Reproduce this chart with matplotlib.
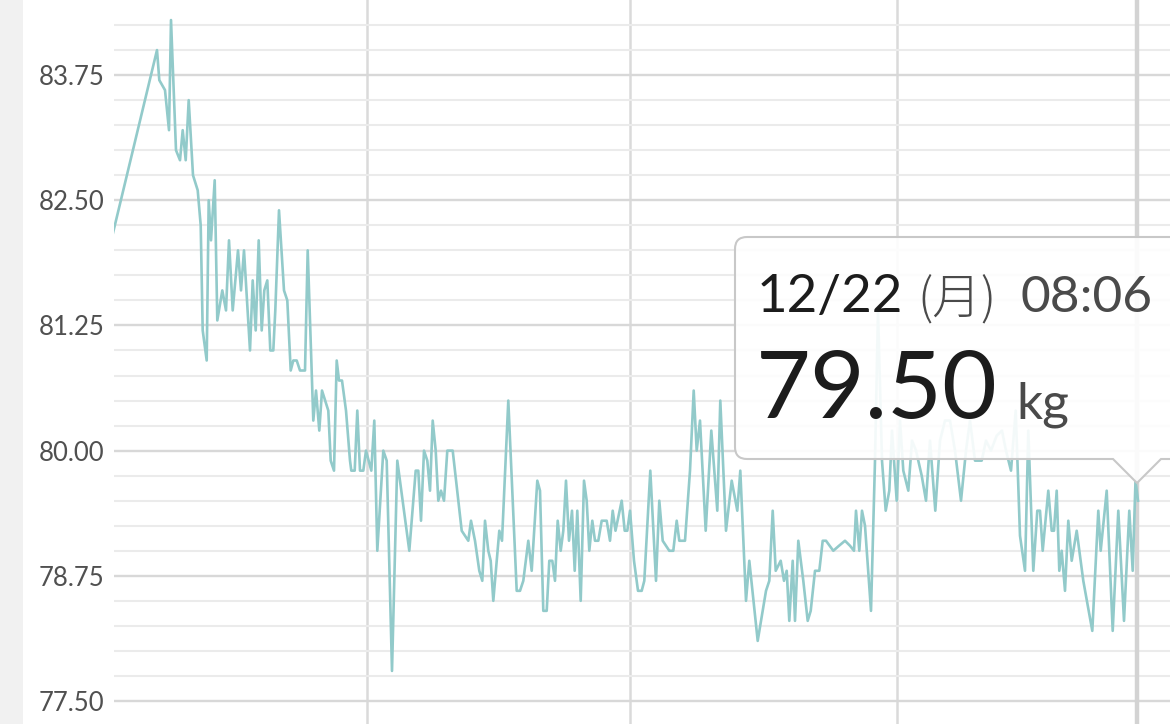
import matplotlib
matplotlib.use('Agg')
import matplotlib.pyplot as plt
from matplotlib.path import Path
from matplotlib.patches import PathPatch, Rectangle

# measurement time (days from the left edge of the view) and weight (kg)
days = [-1.0, 4.3, 4.53, 5.1, 5.5, 5.7, 6.2, 6.6, 6.87, 7.17, 7.47, 7.9, 8.37, 8.67, 8.87,
        9.27, 9.47, 9.7, 10.07, 10.33, 10.83, 11.2, 11.5, 11.87, 12.4, 12.7, 13.0, 13.6,
        13.87, 14.17, 14.47, 14.77, 15.03, 15.33, 15.63, 15.93, 16.13, 16.5, 17.0, 17.33,
        17.67, 17.93, 18.27, 18.6, 19.1, 19.37, 19.93, 20.2, 20.53, 20.8, 21.43, 21.67,
        22.0, 22.27, 22.5, 22.8, 23.2, 23.6, 23.73, 24.07, 24.33, 24.6, 24.93, 25.2, 25.47,
        25.73, 26.03, 26.33, 26.93, 27.27, 27.8, 28.33, 29.53, 30.17, 30.43, 30.7, 31.0,
        31.33, 31.6, 31.87, 32.17, 32.43, 32.7, 33.0, 33.33, 33.87, 34.77, 35.43, 35.7,
        36.1, 36.53, 36.83, 37.1, 37.43, 37.67, 37.93, 38.53, 38.8, 39.43, 40.27, 40.6,
        40.93, 41.43, 41.77, 42.33, 42.6, 42.93, 43.27, 43.53, 43.83, 44.1, 44.37, 44.67,
        44.93, 45.2, 45.5, 45.8, 46.07, 46.33, 46.67, 47.0, 47.27, 47.53, 47.83, 48.1,
        48.43, 48.77, 49.27, 49.6, 49.87, 50.15, 50.77, 51.07, 51.33, 51.6, 52.0, 52.4,
        52.77, 53.03, 53.63, 54.2, 54.53, 54.87, 55.53, 55.93, 56.27, 56.53, 57.1, 57.6,
        57.97, 58.27, 58.6, 59.17, 59.73, 60.33, 60.63, 61.2, 61.77, 62.33, 62.63, 63.2,
        63.53, 64.37, 65.2, 65.53, 65.87, 66.17, 66.67, 67.0, 67.27, 67.53, 67.87, 68.1,
        68.43, 68.93, 69.37, 69.67, 70.1, 70.53, 70.87, 71.2, 71.93, 72.5, 73.1, 73.6,
        74.0, 74.2, 74.53, 74.8, 75.1, 75.7, 76.1, 76.4, 76.8, 77.17, 77.53, 77.8, 78.27,
        78.6, 78.93, 79.43, 79.8, 80.2, 80.77, 81.2, 81.6, 82.13, 82.6, 83.1, 83.6, 84.1,
        84.7, 85.2, 85.6, 86.1, 86.77, 87.2, 87.7, 88.27, 88.8, 89.2, 89.7, 90.17, 90.6,
        91.1, 91.43, 91.93, 92.33, 92.6, 92.87, 93.43, 93.77, 94.0, 94.27, 94.53, 94.77,
        95.1, 95.43, 95.77, 96.27, 96.93, 97.83, 98.43, 98.67, 99.27, 99.87, 100.43,
        101.0, 101.53, 101.87, 102.15, 102.4]
weights = [81.8, 84.0, 83.7, 83.6, 83.2, 84.3, 83.0, 82.9, 83.2, 82.9, 83.5, 82.75, 82.6,
           82.25, 81.2, 80.9, 82.5, 82.1, 82.7, 81.3, 81.6, 81.4, 82.1, 81.4, 82.0, 81.6,
           82.0, 81.0, 81.7, 81.2, 82.1, 81.2, 81.6, 81.7, 81.0, 81.0, 81.4, 82.4, 81.6,
           81.5, 80.8, 80.9, 80.9, 80.8, 80.8, 82.0, 80.3, 80.6, 80.2, 80.6, 80.4, 79.9,
           79.8, 80.9, 80.7, 80.7, 80.4, 79.9, 79.8, 79.8, 80.4, 79.8, 79.8, 80.0, 79.9,
           79.8, 80.3, 79.0, 80.0, 79.9, 77.8, 79.9, 79.0, 79.8, 79.8, 79.3, 80.0, 79.9,
           79.6, 80.3, 80.0, 79.5, 79.6, 79.5, 80.0, 80.0, 79.2, 79.1, 79.3, 79.1, 78.8,
           78.7, 79.3, 79.0, 78.9, 78.5, 79.2, 79.1, 80.5, 78.6, 78.6, 78.7, 79.1, 78.8,
           79.7, 79.6, 78.4, 78.4, 78.9, 78.9, 78.7, 79.3, 79.0, 79.2, 79.7, 79.1, 79.4,
           78.8, 79.4, 78.5, 79.7, 79.5, 79.0, 79.3, 79.1, 79.1, 79.3, 79.3, 79.1, 79.4,
           79.2, 79.5, 79.2, 79.2, 79.4, 78.9, 78.6, 78.6, 78.7, 79.8, 78.7, 79.5, 79.1,
           79.0, 79.0, 79.3, 79.1, 79.1, 79.8, 80.6, 80.0, 80.3, 79.2, 80.2, 79.4, 80.5,
           79.2, 79.7, 79.4, 79.8, 78.5, 78.9, 78.1, 78.6, 78.7, 79.4, 78.8, 78.9, 78.7,
           78.8, 78.3, 78.9, 78.3, 79.1, 78.7, 78.3, 78.4, 78.8, 78.8, 79.1, 79.1, 79.0,
           79.05, 79.1, 79.05, 79.0, 79.4, 79.0, 79.4, 79.25, 78.4, 79.9, 81.4, 79.9, 79.4,
           79.6, 80.2, 79.5, 80.3, 79.8, 79.6, 80.1, 80.0, 79.75, 79.5, 80.1, 79.4, 80.1,
           80.3, 80.3, 80.0, 79.5, 80.0, 80.3, 79.9, 79.9, 80.1, 80.0, 80.15, 80.2, 80.0,
           79.8, 80.4, 79.15, 78.8, 80.2, 78.8, 79.4, 79.4, 79.0, 79.6, 79.2, 79.2, 79.6,
           78.8, 79.0, 78.6, 79.3, 78.9, 79.2, 78.7, 78.2, 79.4, 79.0, 79.6, 78.2, 79.4,
           78.3, 79.4, 78.8, 79.7, 79.5]

y_major = [77.5, 78.75, 80.0, 81.25, 82.5, 83.75]
y_labels = ['77.50', '78.75', '80.00', '81.25', '82.50', '83.75']
y_minor = [77.75, 78.0, 78.25, 78.5, 79.0, 79.25, 79.5, 79.75, 80.25, 80.5, 80.75,
           81.0, 81.5, 81.75, 82.0, 82.25, 82.75, 83.0, 83.25, 83.5, 84.0, 84.25]
x_grid = [25.3, 51.6, 78.3]
cursor_day = 102.3

tip_date = '12/22'
tip_weekday = '(月)'
tip_time = '08:06'
tip_value = '79.50'
tip_unit = 'kg'

W, H = 1170, 724
fig = plt.figure(figsize=(W / 100, H / 100), dpi=100)
fig.patch.set_facecolor('white')

ax = fig.add_axes([114 / W, 0, 1056 / W, 1])
ax.plot(days, weights, color='#92caca', lw=1.9, zorder=3)
ax.axvline(cursor_day, color='#d3d3d3', lw=3.2, zorder=2)

ax.set_xlim(0, 105.6)
ax.set_ylim(77.27, 84.5)
ax.set_yticks(y_major)
ax.set_yticklabels(y_labels)
ax.set_yticks(y_minor, minor=True)
ax.set_xticks(x_grid)
ax.set_xticklabels([])
ax.set_axisbelow(True)
ax.grid(which='major', axis='y', color='#d8d8d8', lw=1.7)
ax.grid(which='minor', axis='y', color='#ebebeb', lw=1.5)
ax.grid(which='major', axis='x', color='#dadada', lw=1.8)
ax.tick_params(which='both', length=0)
ax.tick_params(axis='y', pad=7, labelsize=18.5, labelcolor='#505050')
for lab in ax.get_yticklabels():
    lab.set_family('Lato')
    lab.set_weight('normal')
for s in ax.spines.values():
    s.set_visible(False)

# overlay in pixel coords for the side strip and the tooltip
ov = fig.add_axes([0, 0, 1, 1])
ov.set_xlim(0, W)
ov.set_ylim(H, 0)
ov.axis('off')
ov.patch.set_visible(False)
ov.add_patch(Rectangle((0, 0), 23, H, color='#f1f1f1', lw=0))

L, T, R, B, r = 735, 237, 1210, 459, 12
verts = [(L + r, T), (R, T), (R, B), (1161, B), (1137, 483), (1113, B), (L + r, B),
         (L, B), (L, B - r), (L, T + r), (L, T), (L + r, T), (L + r, T)]
codes = [Path.MOVETO, Path.LINETO, Path.LINETO, Path.LINETO, Path.LINETO, Path.LINETO,
         Path.LINETO, Path.CURVE3, Path.CURVE3, Path.LINETO, Path.CURVE3, Path.CURVE3,
         Path.CLOSEPOLY]
ov.add_patch(PathPatch(Path(verts, codes), facecolor=(1, 1, 1, 0.9),
                       edgecolor='#c8c8c8', lw=1.5))

ov.text(757, 312, tip_date, fontsize=38, color='#1c1c1c', family='Lato',
        ha='left', va='baseline')
ov.text(917, 314, tip_weekday, fontsize=35, color='#4a4a4a',
        family=['Noto Sans CJK JP', 'DejaVu Sans'], weight='light', ha='left', va='baseline')
ov.text(1021, 312, tip_time, fontsize=37, color='#4a4a4a', family='Lato',
        ha='left', va='baseline')
ov.text(756, 418, tip_value, fontsize=68, color='#1c1c1c', family='Lato',
        ha='left', va='baseline')
ov.text(1016, 418, tip_unit, fontsize=37, color='#4a4a4a', family='Lato',
        ha='left', va='baseline')

fig.savefig('out.png', dpi=100)
